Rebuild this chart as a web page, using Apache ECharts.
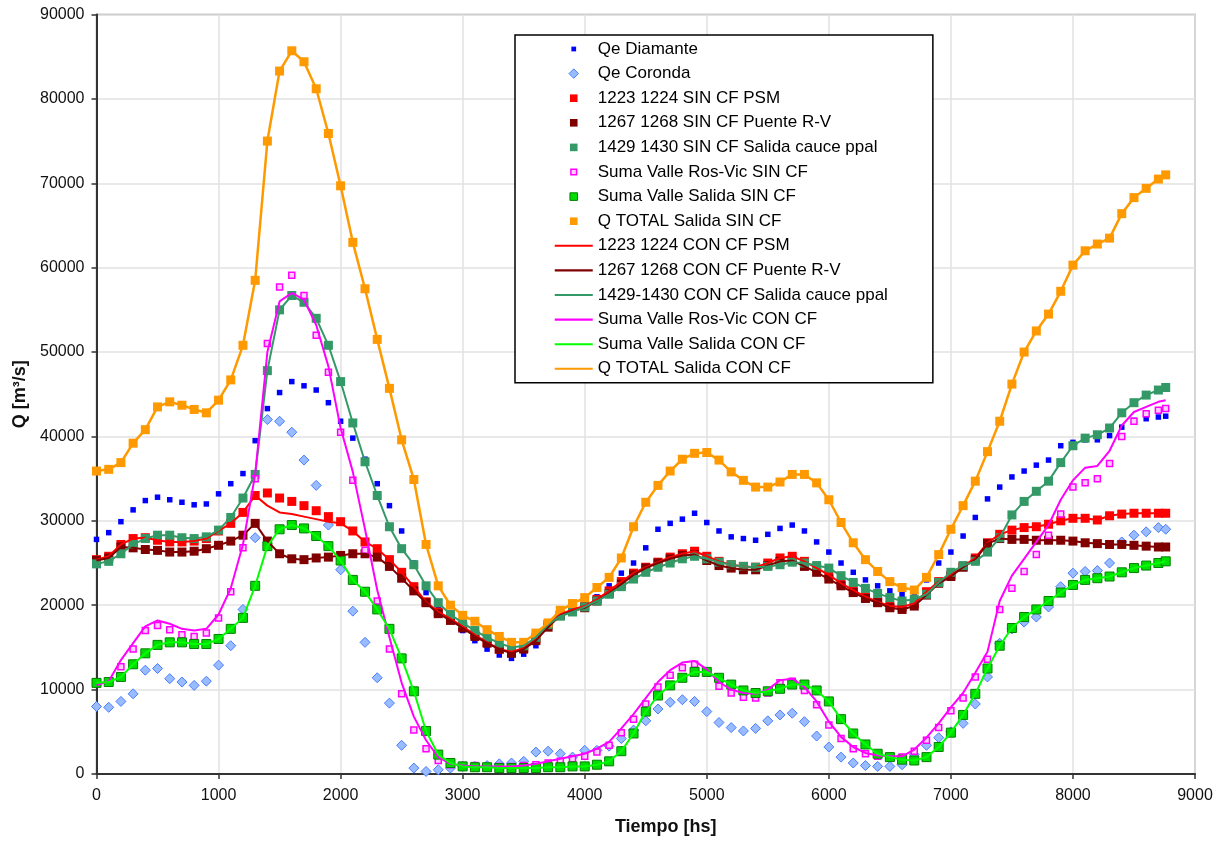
<!DOCTYPE html>
<html><head><meta charset="utf-8">
<script src="https://cdn.jsdelivr.net/npm/echarts@6/dist/echarts.min.js"></script>
<style>html,body{margin:0;padding:0;background:#fff}#c{width:1226px;height:843px}</style>
</head><body><div id="c"></div>
<script>
const hours = [0,100,200,300,400,500,600,700,800,900,
 1000,1100,1200,1300,1400,1500,1600,1700,1800,1900,
 2000,2100,2200,2300,2400,2500,2600,2700,2800,2900,
 3000,3100,3200,3300,3400,3500,3600,3700,3800,3900,
 4000,4100,4200,4300,4400,4500,4600,4700,4800,4900,
 5000,5100,5200,5300,5400,5500,5600,5700,5800,5900,
 6000,6100,6200,6300,6400,6500,6600,6700,6800,6900,
 7000,7100,7200,7300,7400,7500,7600,7700,7800,7900,
 8000,8100,8200,8300,8400,8500,8600,8700,8760];

const qeDiamante = [27800,28600,29900,31300,32400,32800,32500,32200,31900,32000,
 33200,34400,35600,39500,43300,45200,46500,46000,45500,44000,
 41800,39800,37300,34400,31800,28800,25000,21500,19800,18400,
 17000,15800,14800,14100,13700,14200,15200,17300,18800,19400,
 19800,21000,22300,23800,25000,26800,29000,29700,30200,30900,
 29800,28800,28100,27900,27700,28400,29100,29500,28800,27500,
 26300,25000,23900,23000,22300,21700,21300,21400,23000,25000,
 26300,28200,30400,32600,34000,35200,35900,36600,37200,38900,
 39300,39600,39600,40100,41100,41900,42100,42300,42400];

const qeCoronda = [8000,7900,8600,9500,12300,12500,11300,10900,10500,11000,
 12900,15200,19500,28000,42000,41800,40500,37200,34200,29500,
 24200,19300,15600,11400,8400,3400,700,300,500,700,
 900,900,1000,1200,1300,1500,2600,2700,2400,2000,
 2800,2800,3300,4200,5200,6300,7700,8500,8800,8600,
 7400,6100,5500,5100,5400,6300,7000,7200,6200,4500,
 3200,2000,1300,1000,900,900,1100,2300,3400,4300,
 5000,6000,8300,11500,15500,17200,18000,18600,19800,22200,
 23800,24000,24100,25000,27500,28300,28700,29200,29000];

const psmSin = [25400,25800,27200,27900,28000,27700,27500,27500,27600,27900,
 28800,29700,31000,33000,33300,32700,32300,31800,31200,30500,
 29900,28800,27500,26700,25400,23900,22200,20400,19200,18400,
 17500,16500,15600,14800,14500,14900,16000,17700,18900,19500,
 19900,20700,21700,22800,23800,24500,25100,25700,26100,26400,
 25800,25200,24800,24600,24500,25000,25600,25800,25200,24400,
 23600,22600,21800,21000,20400,19900,19800,20200,21600,22800,
 23600,24600,25600,27400,28400,28900,29200,29300,29600,30000,
 30300,30300,30100,30600,30800,30900,30900,30900,30900];

const psmCon = [25400,25800,27200,27900,28000,27700,27500,27500,27600,27900,
 28800,29700,31000,33000,31800,31000,30800,30500,30200,29900,
 29700,28800,27500,26700,25400,23900,22200,20400,19200,18400,
 17500,16500,15600,14800,14500,14900,16000,17700,18900,19500,
 19900,20700,21700,22800,23800,24500,25100,25700,26100,26400,
 25800,25200,24800,24600,24500,25000,25600,25800,25200,24400,
 23600,22600,21800,21000,20400,19900,19800,20200,21600,22800,
 23600,24600,25600,27400,28400,28900,29200,29300,29600,30000,
 30300,30300,30100,30600,30800,30900,30900,30900,30900];

const puenteSin = [25300,25600,26900,26800,26600,26500,26300,26300,26400,26700,
 27100,27600,28300,29700,27600,26100,25500,25400,25600,25700,
 25900,26100,26100,25700,24600,23200,21700,20300,19000,18200,
 17300,16300,15500,14800,14300,14800,15800,17400,18800,19300,
 19700,20500,21400,22500,23600,24400,25000,25500,25900,26000,
 25300,24700,24400,24200,24200,24700,25200,25300,24600,23900,
 23100,22300,21500,20800,20300,19700,19500,19900,21200,22600,
 23400,24500,25400,27300,27900,27800,27800,27700,27700,27700,
 27600,27400,27300,27200,27200,27100,27000,26900,26900];

const cauceSin = [24900,25200,26100,27200,27900,28300,28300,28000,27900,28100,
 28900,30400,32700,35500,47800,55000,56700,55900,54000,50800,
 46500,41600,37000,33000,29300,26700,24800,22300,20300,18900,
 17900,17000,16200,15500,15000,15200,16200,17700,18700,19200,
 19800,20500,21300,22200,23100,23900,24500,25000,25500,25800,
 25500,25100,24800,24600,24500,24600,24800,25100,25000,24700,
 24400,23500,22700,22000,21400,20900,20500,20700,21300,22700,
 23900,24700,25200,26300,28000,30700,32300,33500,34700,36900,
 38900,39800,40200,41000,42800,44000,44900,45500,45800];

const rosVicSin = [10900,11000,12700,14800,17000,17600,17100,16500,16300,16700,
 18500,21600,26800,35000,51000,57700,59100,56700,52000,47600,
 40500,34800,26500,20500,14800,9500,5200,3000,1600,1100,
 1000,1000,900,900,900,1000,1100,1300,1500,1800,
 2100,2600,3400,4900,6500,8300,10300,11700,12600,13000,
 12000,10400,9600,9100,9000,9600,10800,11000,9900,8200,
 5800,4200,3000,2400,2100,2000,2000,2700,4000,5500,
 7500,9000,11500,13600,19500,22000,24000,26000,28300,30800,
 34000,34500,35000,36800,40000,41800,42700,43100,43300];

const rosVicCon = [10500,11000,13500,15500,17500,18200,17800,17200,17000,17200,
 18900,22000,27200,35500,50000,56000,57000,56200,53200,48300,
 41000,35800,29000,21800,16200,10800,6800,4000,2000,1200,
 1000,900,900,900,900,1000,1200,1500,1800,2100,
 2400,3000,3800,5400,7100,9000,10900,12300,13200,13400,
 12400,10900,10000,9600,9500,10000,11100,11300,10300,8600,
 6200,4400,3200,2500,2200,2100,2100,2900,4300,6000,
 7900,9600,12000,14500,20500,23500,25500,27500,29500,32500,
 34800,36300,36500,38300,41300,42900,43500,44100,44300];

const salidaSin = [10800,10900,11500,13000,14300,15300,15600,15600,15400,15400,
 16000,17200,18500,22300,27000,29000,29500,29100,28200,27000,
 25300,23000,21600,19500,17200,13700,9800,5100,2300,1300,
 900,800,800,700,700,700,700,800,800,900,
 900,1100,1500,2700,4800,7400,9300,10500,11400,12100,
 12100,11400,10600,9900,9600,9800,10100,10600,10600,9900,
 8600,6500,4800,3500,2400,2000,1700,1600,2000,3200,
 4900,7000,9500,12500,15200,17300,18600,19500,20500,21500,
 22400,23000,23200,23400,23900,24400,24700,25000,25200];

const totalSin = [35900,36100,36900,39200,40800,43500,44100,43700,43200,42800,
 44300,46700,50800,58500,75000,83300,85700,84400,81200,75900,
 69700,63000,57500,51500,45700,39600,34900,27200,22300,20000,
 18800,18100,17100,16300,15600,15600,16700,17900,19400,20200,
 20900,22100,23300,25600,29300,32200,34200,35900,37300,38000,
 38100,37200,35800,34800,34000,34000,34600,35500,35500,34500,
 32500,29800,27400,25400,24000,22800,22100,21800,23300,26000,
 29000,31800,34700,38200,41800,46200,50000,52500,54500,57200,
 60300,62000,62800,63500,66400,68300,69400,70500,71000];

const puenteCon = puenteSin;
const cauceCon = cauceSin;
const salidaCon = salidaSin;
const totalCon = totalSin;

const FONT = '"Liberation Sans", Arial, sans-serif';
function pairs(v){ return hours.map(function(h,i){ return [h, v[i]]; }); }
function plain(v){ return String(v); }

const ICON_SQ5 = 'path://M0,0M40,14M17.5,4.5L22.5,4.5L22.5,9.5L17.5,9.5Z';
const ICON_SQ6 = 'path://M0,0M40,14M17,4L23,4L23,10L17,10Z';
const ICON_SQ8 = 'path://M0,0M40,14M16,3L24,3L24,11L16,11Z';
const ICON_DIA = 'path://M0,0M40,14M20,2L25,7L20,12L15,7Z';
const ICON_LINE = 'path://M0,0M40,14M0,5.9L40,5.9L40,8.1L0,8.1Z';

function markers(name, values, symbol, size, style){
  style.opacity = 1;
  return {name:name, type:'scatter', data:pairs(values), symbol:symbol, symbolSize:size,
    itemStyle:style, emphasis:{disabled:true}, silent:true};
}
function lineS(name, values, color, w){
  return {name:name, type:'line', data:pairs(values), symbol:'none', showSymbol:false,
    lineStyle:{color:color, width:w||2}, itemStyle:{color:color}, emphasis:{disabled:true}, silent:true};
}

const series = [
  markers('Qe Diamante', qeDiamante, 'rect', 5.5, {color:'#0000FF'}),
  markers('Qe Coronda', qeCoronda, 'diamond', 10, {color:'#99BBFF', borderColor:'#4A7DFF', borderWidth:1}),
  markers('1223 1224 SIN CF PSM', psmSin, 'rect', 9, {color:'#FF0000'}),
  markers('1267 1268 SIN CF Puente R-V', puenteSin, 'rect', 9, {color:'#800000'}),
  markers('1429 1430 SIN CF Salida cauce ppal', cauceSin, 'rect', 9, {color:'#339966'}),
  markers('Suma Valle Ros-Vic SIN CF', rosVicSin, 'rect', 6, {color:'#FFCCFF', borderColor:'#FF00FF', borderWidth:1.5}),
  markers('Suma Valle Salida SIN CF', salidaSin, 'rect', 9, {color:'#00DD00', borderColor:'#008000', borderWidth:1}),
  markers('Q TOTAL Salida SIN CF', totalSin, 'rect', 9, {color:'#FF9900'}),
  lineS('1223 1224 CON CF PSM', psmCon, '#FF0000'),
  lineS('1267 1268 CON CF Puente R-V', puenteCon, '#800000'),
  lineS('1429-1430 CON CF Salida cauce ppal', cauceCon, '#339966'),
  lineS('Suma Valle Ros-Vic CON CF', rosVicCon, '#FF00FF'),
  lineS('Suma Valle Salida CON CF', salidaCon, '#00FF00'),
  lineS('Q TOTAL Salida CON CF', totalCon, '#FF9900', 2.5)
];

const legendData = [
  {name:'Qe Diamante', icon:ICON_SQ5},
  {name:'Qe Coronda', icon:ICON_DIA, itemStyle:{borderWidth:1}},
  {name:'1223 1224 SIN CF PSM', icon:ICON_SQ8},
  {name:'1267 1268 SIN CF Puente R-V', icon:ICON_SQ8},
  {name:'1429 1430 SIN CF Salida cauce ppal', icon:ICON_SQ8},
  {name:'Suma Valle Ros-Vic SIN CF', icon:ICON_SQ6, itemStyle:{borderWidth:1.5}},
  {name:'Suma Valle Salida SIN CF', icon:ICON_SQ8, itemStyle:{borderWidth:1}},
  {name:'Q TOTAL Salida SIN CF', icon:ICON_SQ8},
  {name:'1223 1224 CON CF PSM', icon:ICON_LINE, itemStyle:{borderWidth:0}},
  {name:'1267 1268 CON CF Puente R-V', icon:ICON_LINE, itemStyle:{borderWidth:0}},
  {name:'1429-1430 CON CF Salida cauce ppal', icon:ICON_LINE, itemStyle:{borderWidth:0}},
  {name:'Suma Valle Ros-Vic CON CF', icon:ICON_LINE, itemStyle:{borderWidth:0}},
  {name:'Suma Valle Salida CON CF', icon:ICON_LINE, itemStyle:{borderWidth:0}},
  {name:'Q TOTAL Salida CON CF', icon:ICON_LINE, itemStyle:{borderWidth:0}}
];

const chart = echarts.init(document.getElementById('c'), null, {renderer:'canvas'});
chart.setOption({
  animation:false,
  backgroundColor:'#ffffff',
  grid:{left:96.5, right:31, top:14.5, bottom:69, show:true, borderColor:'#999999', borderWidth:1.5, containLabel:false},
  legend:{
    orient:'vertical', left:515, top:35,
    padding:[5.5,45,5.5,39],
    itemWidth:38, itemHeight:14, itemGap:7.6,
    backgroundColor:'#ffffff', borderColor:'#000000', borderWidth:1.5, borderRadius:0,
    selectedMode:false,
    textStyle:{fontSize:17, lineHeight:17, color:'#000', fontFamily:FONT},
    data:legendData
  },
  xAxis:{
    type:'value', min:0, max:9000, interval:1000,
    name:'Tiempo [hs]', nameLocation:'middle', nameGap:44,
    nameTextStyle:{fontSize:18, fontWeight:'bold', color:'#111', fontFamily:FONT, padding:[0,0,0,40]},
    axisLine:{show:true, onZero:false, lineStyle:{color:'#333', width:2}},
    axisTick:{show:true, length:5, lineStyle:{color:'#333', width:1.5}},
    axisLabel:{fontSize:16, color:'#111', margin:14, fontFamily:FONT, formatter:plain},
    splitLine:{show:true, lineStyle:{color:'#e2e2e2', width:1.5}}
  },
  yAxis:{
    type:'value', min:0, max:90000, interval:10000,
    name:'Q [m³/s]', nameLocation:'middle', nameGap:62, nameRotate:90,
    nameTextStyle:{fontSize:18, fontWeight:'bold', color:'#111', fontFamily:FONT},
    axisLine:{show:true, onZero:false, lineStyle:{color:'#333', width:2}},
    axisTick:{show:true, length:5, lineStyle:{color:'#333', width:1.5}},
    axisLabel:{fontSize:16, color:'#111', margin:12, fontFamily:FONT, formatter:plain},
    splitLine:{show:true, lineStyle:{color:'#e2e2e2', width:1.5}}
  },
  series:series
});
</script>
</body></html>
